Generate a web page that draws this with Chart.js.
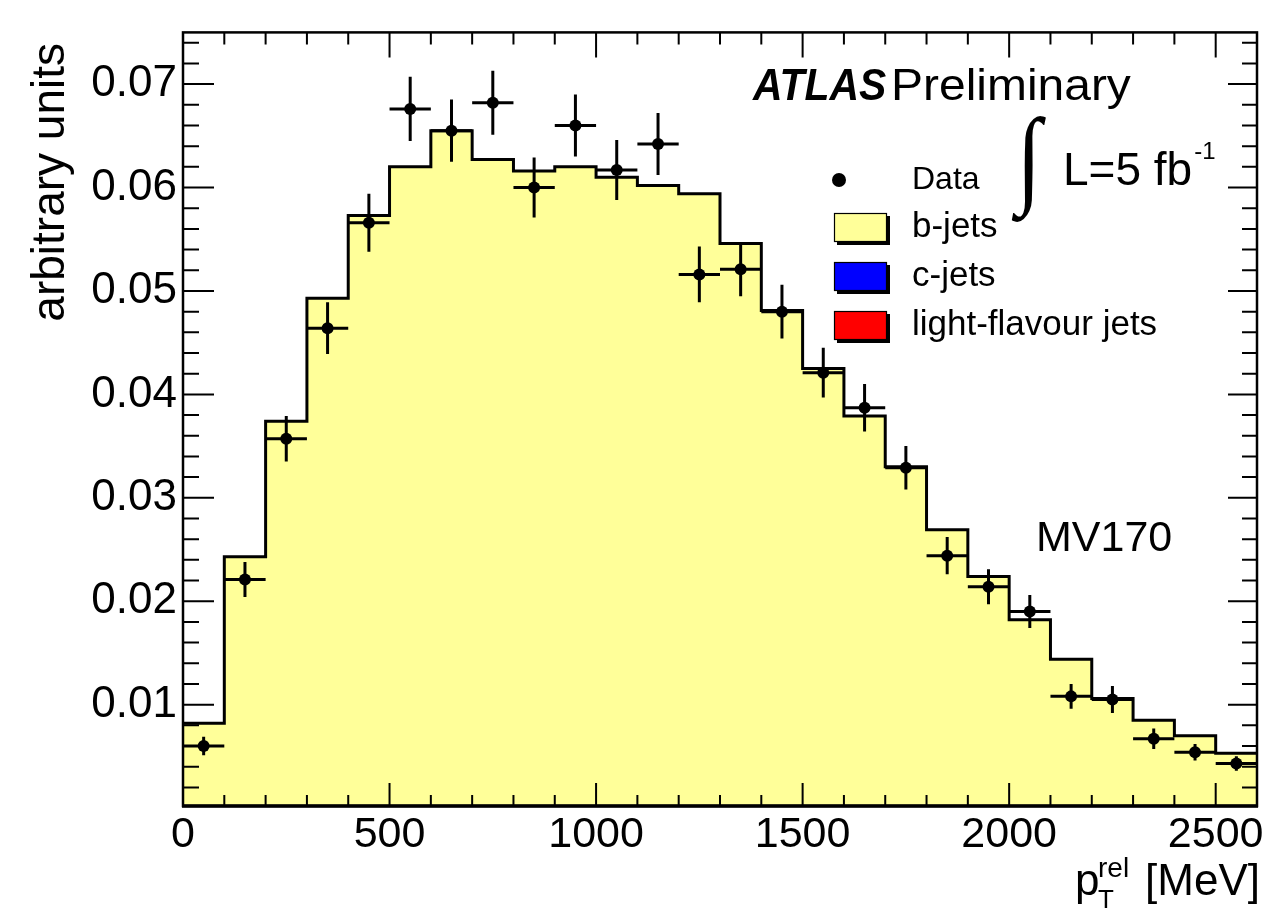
<!DOCTYPE html>
<html><head><meta charset="utf-8">
<script src="https://cdn.jsdelivr.net/npm/chart.js@4.4.0/dist/chart.umd.min.js"></script>
<style>html,body{margin:0;padding:0;background:#fff;}#wrap{width:1272px;height:909px;}</style>
</head><body><div id="wrap"><canvas id="c" width="1272" height="909"></canvas></div>
<script>
// ---- data ----
const binEdges = [0,100,200,300,400,500,600,700,800,900,1000,1100,1200,1300,1400,1500,1600,1700,1800,1900,2000,2100,2200,2300,2400,2500,2600];
const bJets = [0.0082,0.0243,0.0374,0.0493,0.0573,0.0620,0.0655,0.0627,0.0616,0.0620,0.0610,0.0602,0.0594,0.0546,0.0481,0.0425,0.0379,0.0330,0.0269,0.0224,0.0182,0.0144,0.0106,0.0085,0.0070,0.0053];
const dataY = [0.0060,0.0221,0.0357,0.0464,0.0566,0.0676,0.0655,0.0682,0.0600,0.0660,0.0617,0.0642,0.0516,0.0521,0.0480,0.0421,0.0387,0.0329,0.0244,0.0214,0.0190,0.0108,0.0105,0.0067,0.0054,0.0043];
const dataErr = [0.0009,0.0017,0.0022,0.0025,0.0028,0.0031,0.0030,0.0031,0.0029,0.0030,0.0029,0.0030,0.0027,0.0026,0.0026,0.0024,0.0023,0.0021,0.0018,0.0017,0.0016,0.0012,0.0013,0.0010,0.0008,0.0007];
const xTicks = [0,500,1000,1500,2000,2500];
const yTicks = [0.01,0.02,0.03,0.04,0.05,0.06,0.07];
const legendLabels = ['Data','b-jets','c-jets','light-flavour jets'];
const legendColors = [null,'#ffff99','#0000ff','#ff0000'];

const FONT = "'Liberation Sans', Arial, Helvetica, sans-serif";

const histPoints = binEdges.map((x,i)=>({x:x, y:bJets[Math.min(i,bJets.length-1)]}));
const dataPoints = dataY.map((y,i)=>({x:(binEdges[i]+binEdges[i+1])/2, y:y}));

function stretchText(ctx, text, x, y, sx){
  ctx.save(); ctx.translate(x,y); ctx.scale(sx,1); ctx.fillText(text,0,0); ctx.restore();
  return ctx.measureText(text).width*sx;
}

const decor = {
  id:'decor',
  afterDatasetsDraw(chart){
    const ctx = chart.ctx, xs = chart.scales.x, ys = chart.scales.y;
    ctx.save();
    ctx.beginPath();
    const a = chart.chartArea;
    ctx.rect(a.left,a.top,a.right-a.left,a.bottom-a.top);
    ctx.clip();
    ctx.strokeStyle='#000'; ctx.lineWidth=3; ctx.lineCap='butt';
    dataY.forEach((y,i)=>{
      const xl = xs.getPixelForValue(binEdges[i]), xr = xs.getPixelForValue(binEdges[i+1]);
      const xc = xs.getPixelForValue((binEdges[i]+binEdges[i+1])/2);
      const yc = ys.getPixelForValue(y);
      ctx.beginPath();
      ctx.moveTo(xl,yc); ctx.lineTo(xr,yc);
      ctx.moveTo(xc,ys.getPixelForValue(y+dataErr[i])); ctx.lineTo(xc,ys.getPixelForValue(y-dataErr[i]));
      ctx.stroke();
    });
    ctx.restore();
  },
  afterDraw(chart){
    const ctx = chart.ctx, xs = chart.scales.x, ys = chart.scales.y, a = chart.chartArea;
    ctx.save();
    ctx.strokeStyle='#000';
    ctx.lineWidth=2;
    ctx.beginPath();
    for(let i=0;i<=26;i++){
      const v=i*100, px=xs.getPixelForValue(v), major=(i%5===0);
      ctx.moveTo(px,a.bottom); ctx.lineTo(px,a.bottom-(major?23:11));
      ctx.moveTo(px,a.top); ctx.lineTo(px,a.top+(major?25:12));
    }
    for(let i=1;i<=37;i++){
      const v=i*0.002, py=ys.getPixelForValue(v), major=(i%5===0);
      ctx.moveTo(a.left,py); ctx.lineTo(a.left+(major?31:16),py);
      ctx.moveTo(a.right,py); ctx.lineTo(a.right-(major?29:15),py);
    }
    ctx.stroke();
    ctx.lineWidth=2.5;
    ctx.strokeRect(a.left,a.top,a.right-a.left,a.bottom-a.top);
    ctx.lineWidth=3.5;
    ctx.beginPath(); ctx.moveTo(a.left-1,a.bottom); ctx.lineTo(a.right+1,a.bottom); ctx.stroke();

    ctx.fillStyle='#000';
    ctx.textBaseline='alphabetic';
    ctx.textAlign='left';
    // ATLAS Preliminary
    ctx.font="italic bold 44px "+FONT;
    stretchText(ctx,'ATLAS',753,100,0.93);
    ctx.font="44px "+FONT;
    stretchText(ctx,'Preliminary',891,100,1.09);
    // integral luminosity
    ctx.save();
    ctx.font="90px 'Liberation Serif', serif";
    ctx.textBaseline='middle';
    ctx.textAlign='center';
    ctx.translate(1029,165);
    ctx.scale(1,1.2);
    ctx.fillText('\u222B',0,0);
    ctx.restore();
    ctx.font="46px "+FONT;
    ctx.fillText('L=5 fb',1063,185);
    const wL = ctx.measureText('L=5 fb').width;
    ctx.font="24px "+FONT;
    ctx.fillText('-1',1063+wL+2,159);
    // legend
    const lx=912, baseY=[189,237,286,335];
    ctx.beginPath(); ctx.arc(839,180,7,0,Math.PI*2); ctx.fill();
    legendLabels.forEach((t,i)=>{
      ctx.fillStyle='#000';
      ctx.font=(i===0?"32px ":"35px ")+FONT;
      ctx.fillText(t,lx,baseY[i]);
      if(legendColors[i]){
        const by = baseY[i]-24;
        ctx.fillRect(837,by+3,53,29);
        ctx.fillStyle=legendColors[i];
        ctx.fillRect(834,by,53,29);
        ctx.lineWidth=1.2; ctx.strokeStyle='#000';
        ctx.strokeRect(834.5,by+0.5,52,28);
      }
    });
    ctx.fillStyle='#000';
    // MV170
    ctx.font="43px "+FONT;
    ctx.fillText('MV170',1036,551);
    // y title
    ctx.save();
    ctx.translate(64,43);
    ctx.rotate(-Math.PI/2);
    ctx.textAlign='right';
    ctx.font="46px "+FONT;
    ctx.fillText('arbitrary units',0,0);
    ctx.restore();
    // x title
    ctx.textAlign='left';
    ctx.font="44px "+FONT;
    const wMeV = ctx.measureText('[MeV]').width;
    ctx.fillText('[MeV]',1260 - wMeV,895);
    ctx.fillText('p',1075,895);
    ctx.font="28px "+FONT;
    ctx.fillText('rel',1098,877);
    ctx.font="26px "+FONT;
    ctx.fillText('T',1098,908);
    ctx.restore();
  }
};

new Chart(document.getElementById('c'),{
  data:{
    datasets:[
      {type:'scatter', label:'Data', data:dataPoints, pointRadius:6, pointHoverRadius:6,
       backgroundColor:'#000', borderWidth:0, order:1},
      {type:'line', label:'b-jets', data:histPoints, stepped:'before', fill:'origin',
       backgroundColor:'#ffff99', borderColor:'#000', borderWidth:3, pointRadius:0, order:2}
    ]
  },
  options:{
    responsive:false, animation:false, devicePixelRatio:1,
    layout:{padding:{left:0,right:15,top:31,bottom:0}},
    plugins:{legend:{display:false}, tooltip:{enabled:false}},
    scales:{
      x:{type:'linear', position:'bottom', min:0, max:2600,
         grid:{display:false, drawTicks:false}, border:{display:false},
         afterBuildTicks:s=>{s.ticks=xTicks.map(v=>({value:v}));},
         afterFit:s=>{s.height=103;},
         ticks:{autoSkip:false, maxRotation:0, padding:3, color:'#000',
                font:{size:43, family:FONT}, callback:v=>String(v)}},
      y:{type:'linear', position:'left', min:0.0002, max:0.075,
         grid:{display:false, drawTicks:false}, border:{display:false},
         afterBuildTicks:s=>{s.ticks=yTicks.map(v=>({value:v}));},
         afterFit:s=>{s.width=183;},
         ticks:{padding:6, color:'#000', font:{size:44, family:FONT},
                callback:v=>Number(v).toFixed(2)}}
    }
  },
  plugins:[decor]
});
</script></body></html>
